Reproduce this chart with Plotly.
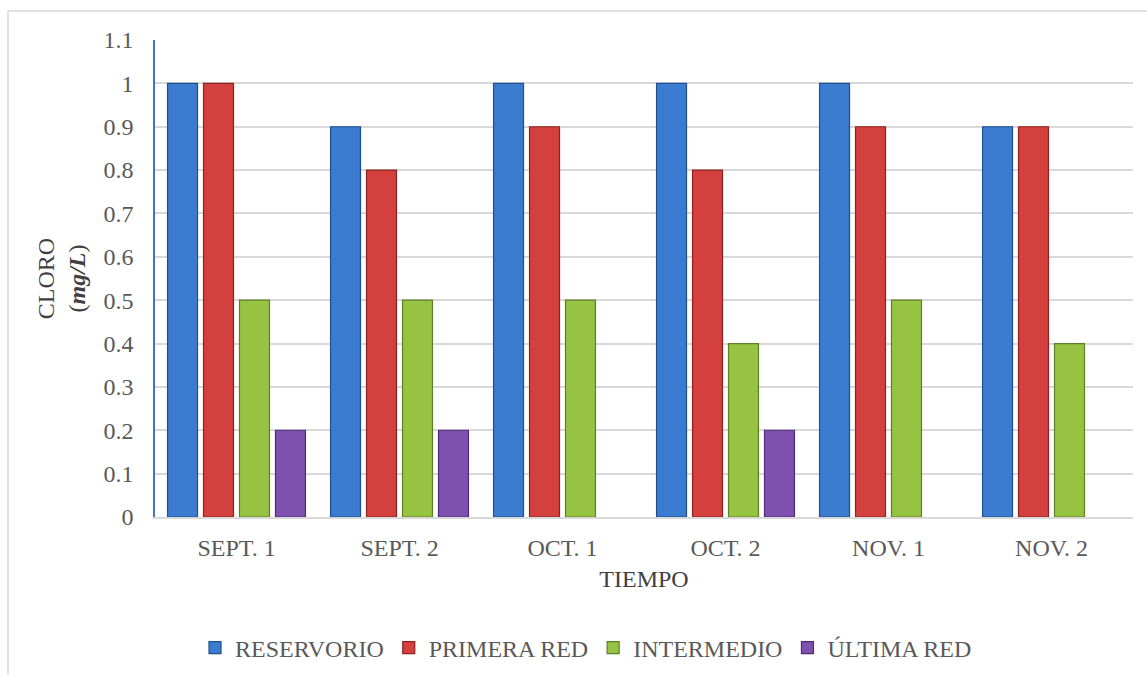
import plotly.graph_objects as go

categories = ["SEPT. 1", "SEPT. 2", "OCT. 1", "OCT. 2", "NOV. 1", "NOV. 2"]
reservorio = [1.0, 0.9, 1.0, 1.0, 1.0, 0.9]
primera_red = [1.0, 0.8, 0.9, 0.8, 0.9, 0.9]
intermedio = [0.5, 0.5, 0.5, 0.4, 0.5, 0.4]
ultima_red = [0.2, 0.2, 0.0, 0.2, 0.0, 0.0]

series = [
    ("RESERVORIO", reservorio, "#3B7BD0", "#1F4F8F"),
    ("PRIMERA RED", primera_red, "#D3403D", "#8E2220"),
    ("INTERMEDIO", intermedio, "#96C341", "#5E7F22"),
    ("ÚLTIMA RED", ultima_red, "#7E50B0", "#4E2C75"),
]

FONT = "Liberation Serif, Times New Roman, serif"
FS = 24
L, R, T, B = 155, 14, 40, 158
W, H = 1147, 675
pw, ph = W - L - R, H - T - B

def px(x):
    return (x - L) / pw

def py(y):
    return (H - B - y) / ph

fig = go.Figure()
for name, vals, col, edge in series:
    fig.add_trace(go.Bar(
        x=categories, y=vals, name=name,
        marker=dict(color=col,
                    line=dict(color=edge, width=[1.2 if v > 0 else 0 for v in vals])),
    ))

fig.update_layout(
    width=W, height=H,
    margin=dict(l=L, r=R, t=T, b=B, autoexpand=False),
    paper_bgcolor="white", plot_bgcolor="white",
    barmode="group", bargap=0.117, bargroupgap=0.167,
    font=dict(family=FONT, size=FS, color="#595959"),
    showlegend=True,
    legend=dict(orientation="h", xref="container", yref="container",
                x=586 / W, y=1 - 648 / H, xanchor="center", yanchor="middle",
                font=dict(family=FONT, size=FS, color="#595959"),
                itemwidth=30, tracegroupgap=0, bgcolor="rgba(0,0,0,0)"),
    xaxis=dict(
        title=dict(text="TIEMPO", font=dict(family=FONT, size=FS, color="#404040"), standoff=10),
        showgrid=False, showline=True, linecolor="#D9D9D9", linewidth=2,
        tickfont=dict(family=FONT, size=FS, color="#595959"),
        ticks="", ticklabelstandoff=8,
    ),
    yaxis=dict(
        title=dict(text="CLORO<br>(<b><i>mg/L</i></b>)", font=dict(family=FONT, size=FS, color="#404040"), standoff=11),
        range=[0, 1.1], dtick=0.1, tick0=0,
        showgrid=True, gridcolor="#D9D9D9", gridwidth=1.5,
        showline=True, linecolor="#4472C4", linewidth=1.5,
        zeroline=False,
        tickfont=dict(family=FONT, size=FS, color="#595959"),
        ticks="", ticklabelstandoff=15,
    ),
    shapes=[
        dict(type="line", xref="paper", yref="paper", x0=px(8), x1=px(8), y0=py(11), y1=py(680),
             line=dict(color="#D9D9D9", width=1.5)),
        dict(type="line", xref="paper", yref="paper", x0=px(8), x1=px(1150), y0=py(11), y1=py(11),
             line=dict(color="#D9D9D9", width=1.5)),
    ],
)

fig.write_html("out.html")
